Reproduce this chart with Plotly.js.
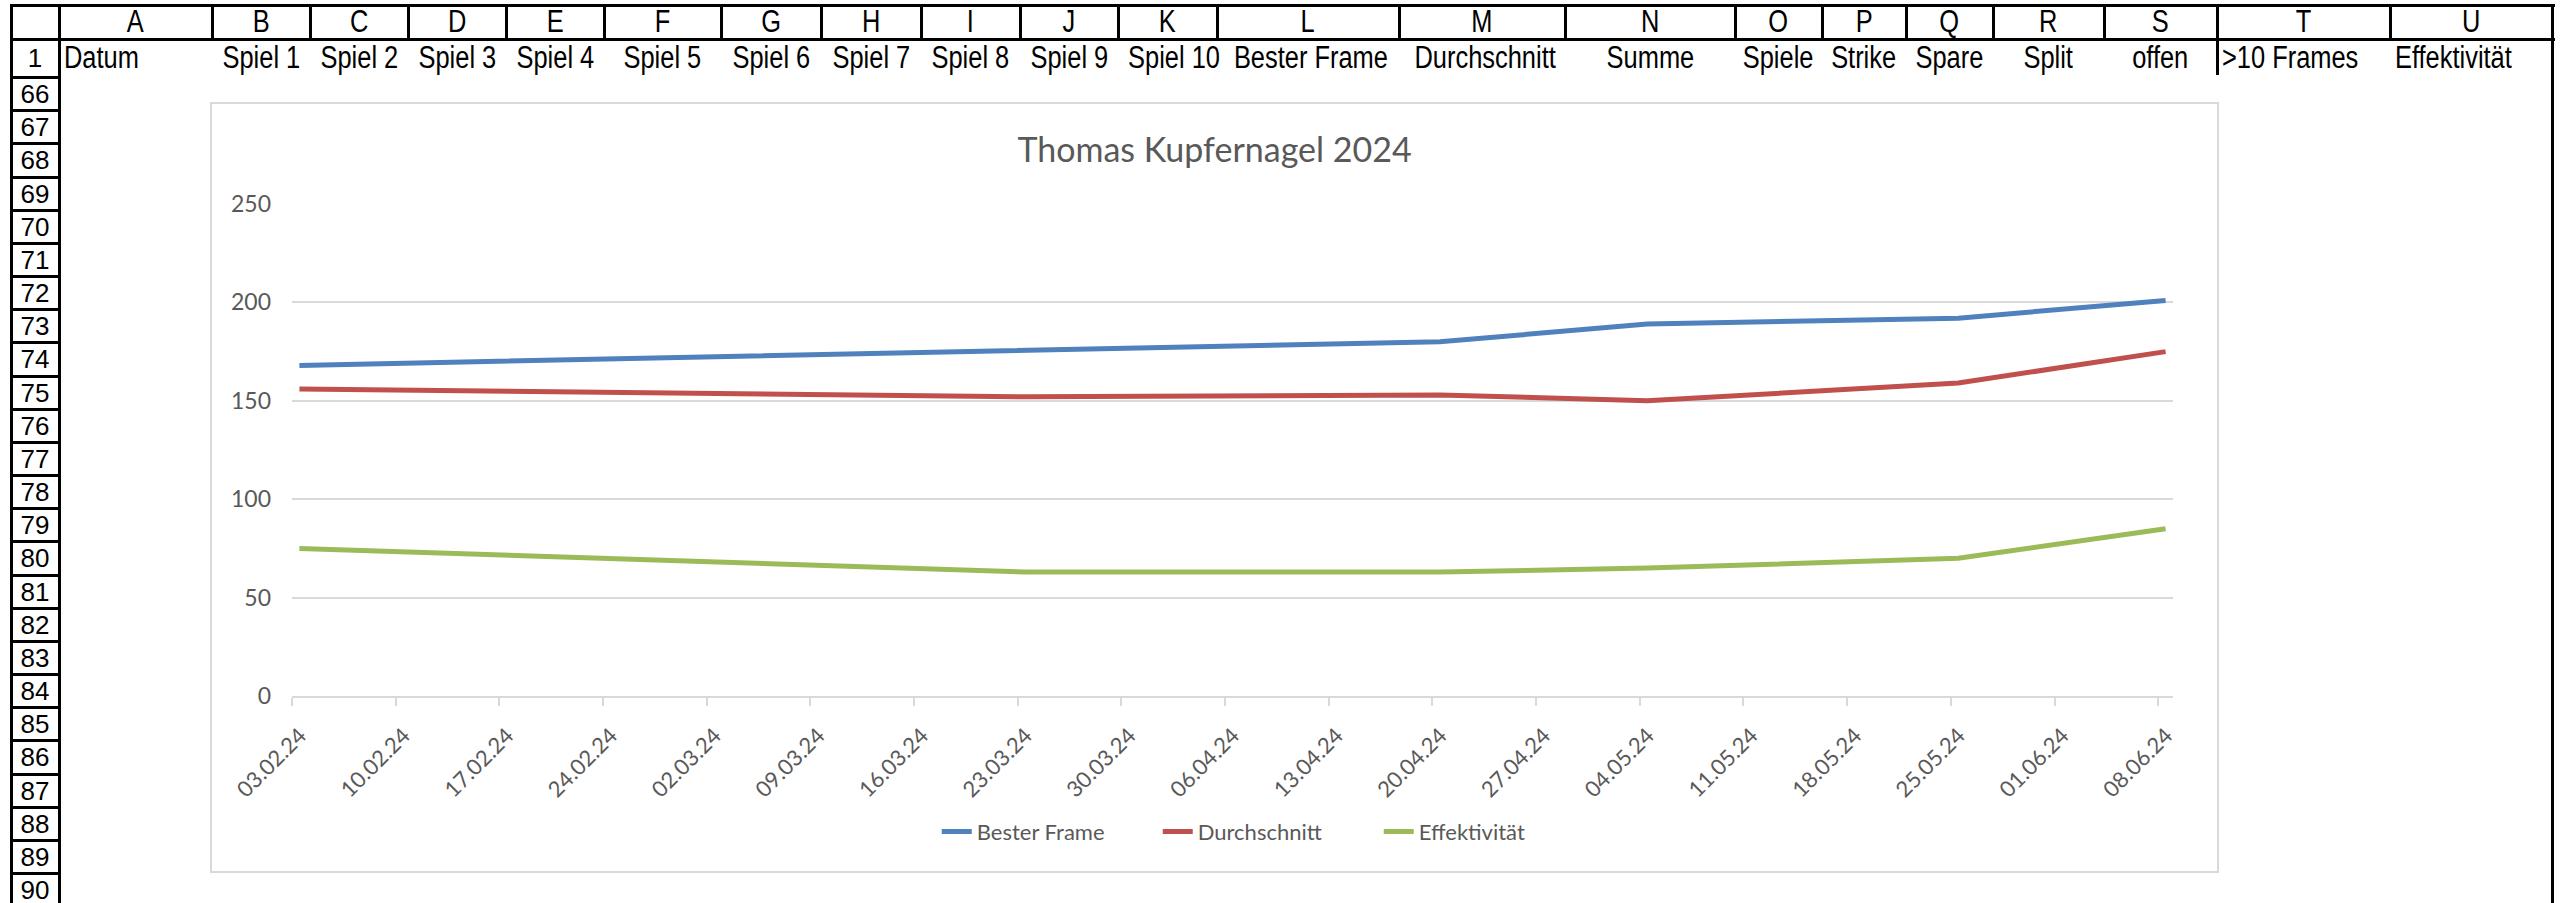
<!DOCTYPE html>
<html>
<head>
<meta charset="utf-8">
<script src="https://cdn.plot.ly/plotly-3.0.1.min.js"></script>
<style>
body { margin:0; width:2562px; height:903px; background:#fff; position:relative; overflow:hidden; font-family:"Liberation Sans", Arial, sans-serif; }
.ln { position:absolute; background:#000; }
.cell { position:absolute; white-space:nowrap; color:#000; overflow:visible; }
.cell span { display:inline-block; transform:scaleX(0.82); }
#wrap { position:absolute; left:210px; top:102px; border:2px solid #d9d9d9; background:#fff; }
#plot { width:2005px; height:767px; }
</style>
</head>
<body>
<div id="wrap"><div id="plot"></div></div>
<script>
// sheet part (just the grid around the chart)
var colLetters = ['A','B','C','D','E','F','G','H','I','J','K','L','M','N','O','P','Q','R','S','T','U'];
var colBounds = [59, 212, 310, 408, 506, 604, 721, 821, 921, 1020, 1118, 1217, 1399, 1565, 1735, 1822, 1906, 1993, 2104, 2217, 2390, 2552];
var row1Labels = ['Datum','Spiel 1','Spiel 2','Spiel 3','Spiel 4','Spiel 5','Spiel 6','Spiel 7','Spiel 8','Spiel 9','Spiel 10',
  'Bester Frame','Durchschnitt','Summe','Spiele','Strike','Spare','Split','offen','>10 Frames','Effektivität'];
var row1Align = ['left','center','center','center','center','center','center','center','center','center','center',
  'center','center','center','center','center','center','center','center','left','left'];
var rowNumbers = [66,67,68,69,70,71,72,73,74,75,76,77,78,79,80,81,82,83,84,85,86,87,88,89,90];

var rowPitch = 33.17;
var firstRowTop = 77;

function line(x, y, w, h){
  var d = document.createElement('div');
  d.className = 'ln';
  d.style.left = x + 'px'; d.style.top = y + 'px';
  d.style.width = w + 'px'; d.style.height = h + 'px';
  document.body.appendChild(d);
}
function cell(text, x, y, w, h, align, size, narrow){
  var d = document.createElement('div');
  d.className = 'cell';
  d.style.left = x + 'px'; d.style.top = y + 'px';
  d.style.width = w + 'px'; d.style.height = h + 'px';
  d.style.lineHeight = h + 'px';
  d.style.textAlign = align;
  d.style.fontSize = size + 'px';
  var s = document.createElement('span');
  s.textContent = text;
  if (narrow){
    s.style.transformOrigin = align == 'left' ? 'left center' : 'center center';
  } else {
    s.style.transform = 'none';
  }
  d.appendChild(s);
  document.body.appendChild(d);
}

// horizontal frame lines
line(10, 4, 2545, 3);
line(10, 38, 2545, 3);
line(10, 76, 50, 3);
for (var k = 1; k <= rowNumbers.length; k++){
  line(10, Math.round(firstRowTop + rowPitch*k) - 1, 50, 3);
}
// vertical lines
line(10, 4, 3, 899);
line(58, 4, 3, 899);
line(2551, 4, 3, 899);
for (var i = 1; i < colBounds.length; i++){
  line(colBounds[i] - 1, 4, 3, 36);
}
line(colBounds[19] - 1, 38, 3, 37);

// header letters + row 1
for (var i = 0; i < colLetters.length; i++){
  cell(colLetters[i], colBounds[i], 6, colBounds[i+1] - colBounds[i], 32, 'center', 31, true);
  var pad = row1Align[i] == 'left' ? 5 : 0;
  cell(row1Labels[i], colBounds[i] + pad, 40, colBounds[i+1] - colBounds[i] - pad, 36, row1Align[i], 31, true);
}
// row numbers
cell('1', 12, 40, 46, 36, 'center', 26, false);
for (var r = 0; r < rowNumbers.length; r++){
  cell(String(rowNumbers[r]), 12, firstRowTop + rowPitch*r + 1, 46, rowPitch - 1, 'center', 26, false);
}

// chart data
var tickLabels = ['03.02.24','10.02.24','17.02.24','24.02.24','02.03.24','09.03.24','16.03.24','23.03.24','30.03.24',
  '06.04.24','13.04.24','20.04.24','27.04.24','04.05.24','11.05.24','18.05.24','25.05.24','01.06.24','08.06.24'];
var dates = ['2024-02-03','2024-03-23','2024-04-20','2024-05-04','2024-05-25','2024-06-08'];
var besterFrame = [168, 176, 180, 189, 192, 201];
var durchschnitt = [156, 152, 153, 150, 159, 175];
var effektivitaet = [75, 63, 63, 65, 70, 85];

var halfDay = 12*3600*1000;
function deDate(s){
  var p = s.split('.');
  return Date.UTC(2000 + parseInt(p[2]), parseInt(p[1]) - 1, parseInt(p[0]));
}
// excel puts the point in the middle of the day, ticks on day start
var tickvals = tickLabels.map(function(t){ return deDate(t) - halfDay; });
var xRange = [tickvals[0], deDate(tickLabels[tickLabels.length-1]) + halfDay];

var txtColor = '#595959';
var chartFont = 'Lato, "Open Sans", sans-serif';

var trace1 = {x: dates, y: besterFrame, type: 'scatter', mode: 'lines', name: 'Bester Frame',
  line: {color: '#4f81bd', width: 5}};
var trace2 = {x: dates, y: durchschnitt, type: 'scatter', mode: 'lines', name: 'Durchschnitt',
  line: {color: '#c0504d', width: 5}};
var trace3 = {x: dates, y: effektivitaet, type: 'scatter', mode: 'lines', name: 'Effektivität',
  line: {color: '#9bbb59', width: 5}};

var layout = {
  width: 2005, height: 767,
  margin: {l: 80, r: 44, t: 100, b: 175},
  paper_bgcolor: '#fff', plot_bgcolor: '#fff',
  font: {family: chartFont, color: txtColor, size: 22},
  title: {text: 'Thomas Kupfernagel 2024', font: {family: chartFont, size: 34, color: txtColor},
    x: 0.5, xref: 'container', y: 0.94, yref: 'container', yanchor: 'middle'},
  xaxis: {
    type: 'date', range: xRange,
    tickmode: 'array', tickvals: tickvals, ticktext: tickLabels,
    tickangle: -45, showgrid: false, zeroline: false,
    showline: true, linecolor: '#d9d9d9', linewidth: 2,
    ticks: 'outside', ticklen: 8, tickwidth: 2, tickcolor: '#d9d9d9',
    ticklabelstandoff: 8, ticklabelshift: 8,
    tickfont: {size: 22, color: txtColor}
  },
  yaxis: {
    range: [0, 250], dtick: 50, tick0: 0,
    showgrid: true, gridcolor: '#d9d9d9', gridwidth: 2,
    zeroline: false, showline: false, ticks: '',
    ticklabelstandoff: 20,
    tickfont: {size: 23, color: txtColor}
  },
  legend: {orientation: 'h', x: 0.519, xanchor: 'center', y: -0.276, yanchor: 'middle',
    font: {size: 22, color: txtColor}, entrywidth: 176},
  showlegend: true
};

Plotly.newPlot('plot', [trace1, trace2, trace3], layout, {staticPlot: true});
</script>
</body>
</html>
